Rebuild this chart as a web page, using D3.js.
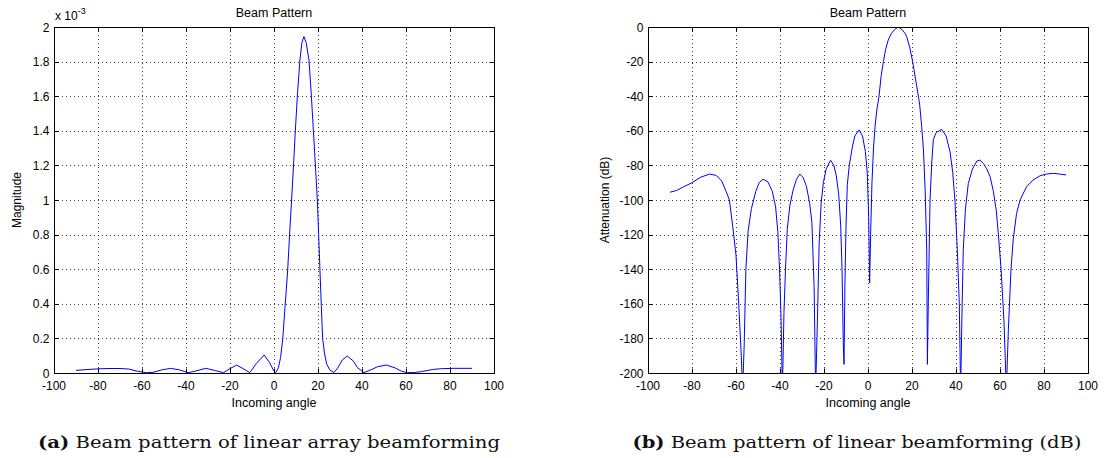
<!DOCTYPE html>
<html>
<head>
<meta charset="utf-8">
<script src="https://cdn.jsdelivr.net/npm/d3@7"></script>
<style>
  body { margin: 0; background: #fff; }
  svg { display: block; }
  .tick-label { font-family: "Liberation Sans", Arial, sans-serif; font-size: 12px; fill: #000; }
</style>
</head>
<body>
<div id="vis_canvas"></div>
<script>

// ---- data ----
var xTicks = [-100, -80, -60, -40, -20, 0, 20, 40, 60, 80, 100];
var yTicksMag = [0, 0.2, 0.4, 0.6, 0.8, 1, 1.2, 1.4, 1.6, 1.8, 2];      // x 10^-3
var yTicksDb = [0, -20, -40, -60, -80, -100, -120, -140, -160, -180, -200];

// (a) magnitude, in units of 1e-3
var magAngles = [-90, -85, -80, -75, -70, -66, -62, -58, -55, -51, -47, -43, -39, -36, -31, -27, -23, -20, -17, -14, -11,
  -8, -4.5, -2, 0, 0.8, 2, 3, 4, 5, 6.2, 7, 8, 9, 9.7, 10.7, 11.8, 12.7, 13.6, 14.6, 15.9, 17, 17.9, 19, 19.7, 20.3,
  20.9, 21.5, 22.1, 23, 24, 25.5, 27.3, 29, 31, 33.3, 36, 38, 40.9, 44, 47, 51, 55, 58, 60.6, 64, 67, 72, 76, 82, 90];
var magValues = [0.015, 0.020, 0.024, 0.026, 0.026, 0.023, 0.010, 0.002, 0.004, 0.018, 0.027, 0.018, 0.002, 0.010, 0.027, 0.015, 0.002, 0.025, 0.046, 0.025, 0.002,
  0.055, 0.104, 0.060, 0.010, 0.002, 0.03, 0.09, 0.20, 0.38, 0.59, 0.78, 1.0, 1.23, 1.40, 1.62, 1.81, 1.91, 1.945, 1.91, 1.81, 1.60, 1.40, 1.16, 1.0, 0.80,
  0.59, 0.39, 0.20, 0.11, 0.05, 0.015, 0.003, 0.03, 0.075, 0.098, 0.07, 0.03, 0.002, 0.018, 0.036, 0.046, 0.030, 0.010, 0.002, 0.003, 0.008, 0.020, 0.025, 0.027, 0.027];

// (b) attenuation in dB (values under -200 fall off the axis)
var dbAngles = [-90, -87, -84, -80, -76, -72, -69, -66.5, -64.5, -63, -61.5, -60, -58.8, -57.6, -57, -56.3, -55.5, -54.5, -53, -51,
  -49.5, -47.7, -45.5, -43.5, -42, -41, -40.2, -39.5, -38.9, -38.2, -37.5, -36.7, -35.5, -34, -32.5, -31, -29.5, -28, -26.5, -25.5,
  -24.5, -23.8, -23, -22.2, -21.3, -20.3, -19, -17, -15.5, -14.4, -13.3, -12.4, -11.8, -11.2, -10.9, -10.5, -10, -9.4, -8.5, -7.2,
  -6, -4.1, -2.5, -1.2, -0.3, 0.3, 0.75, 1.2, 1.8, 2.5, 3.2, 4, 5, 6, 7, 8, 9.2, 10.5, 12, 13.8,
  15.5, 17, 17.6, 19, 20.3, 21.6, 22.9, 23.5, 24.4, 25.2, 26, 26.7, 27, 27.4, 28.2, 29, 29.7, 31, 33.5, 35.5,
  37.3, 38.5, 39.5, 40.6, 41.5, 42.1, 42.8, 43.3, 44.3, 45.6, 47.5, 49.5, 50.9, 52.5, 54, 55.5, 57, 58.3, 59.2, 60.5,
  61.8, 62.9, 63.8, 65, 66, 67.5, 69.1, 72.1, 75, 78.2, 81, 84.2, 87, 90];
var dbValues = [-95.5, -94.5, -92.5, -90, -86.8, -85, -85.8, -89, -95, -100, -115, -132, -159, -190, -210, -185, -140, -118, -105, -95,
  -90, -88, -89.5, -95, -104, -118, -140, -170, -210, -165, -140, -117, -103, -94, -88, -85, -87, -92, -102, -113,
  -150, -210, -170, -125, -102, -90, -82, -77, -80, -86, -97, -115, -140, -185, -195, -150, -115, -91, -80, -70,
  -63, -59.5, -63, -72, -85, -110, -148, -120, -90, -70, -57.6, -48, -40, -28, -20, -13, -7.5, -4, -1.5, 0,
  -1.5, -4, -5.6, -12, -20, -30, -40, -45, -57.6, -71, -95, -129, -195, -160, -100, -78, -65, -61, -59.2, -63,
  -72.2, -84, -100, -129, -160, -210, -160, -129, -105, -90.4, -82, -77.5, -76.9, -79, -82, -86.5, -95, -106, -119, -140,
  -170, -210, -175, -140, -123, -108, -100, -92.3, -88.5, -86, -85, -84.6, -85, -85.5];

var W = 1111, H = 458;

var svg = d3.select('#vis_canvas').append('svg')
    .attr('width', W)
    .attr('height', H);

function drawPanel(opt) {
    var left = opt.left, top = 27, w = 440, h = 346;

    var x = d3.scaleLinear().domain([-100, 100]).range([left, left + w]);
    var y = d3.scaleLinear().domain(opt.yDomain).range([top + h, top]);

    var g = svg.append('g');

    g.append('clipPath').attr('id', opt.id + '_clip')
        .append('rect')
        .attr('x', left).attr('y', top).attr('width', w).attr('height', h);

    g.append('rect')
        .attr('x', left).attr('y', top).attr('width', w).attr('height', h)
        .attr('fill', '#fff');

    // dotted grid
    g.selectAll('.gx').data(xTicks.slice(1, -1)).enter().append('line')
        .attr('x1', function (d) { return Math.round(x(d)) + 0.5; })
        .attr('x2', function (d) { return Math.round(x(d)) + 0.5; })
        .attr('y1', top).attr('y2', top + h)
        .attr('stroke', '#000').attr('stroke-width', 1)
        .attr('stroke-dasharray', '1,3').attr('opacity', 0.75);

    g.selectAll('.gy').data(opt.yTicks.slice(1, -1)).enter().append('line')
        .attr('y1', function (d) { return Math.round(y(d)) + 0.5; })
        .attr('y2', function (d) { return Math.round(y(d)) + 0.5; })
        .attr('x1', left).attr('x2', left + w)
        .attr('stroke', '#000').attr('stroke-width', 1)
        .attr('stroke-dasharray', '1,3').attr('opacity', 0.75);

    // the curve
    var line = d3.line()
        .x(function (d) { return x(d[0]); })
        .y(function (d) { return y(d[1]); });

    var pts = opt.xs.map(function (a, i) { return [a, opt.ys[i]]; });

    g.append('path')
        .datum(pts)
        .attr('clip-path', 'url(#' + opt.id + '_clip)')
        .attr('d', line)
        .attr('fill', 'none')
        .attr('stroke', '#0000ff')
        .attr('stroke-width', 1);

    // inward ticks, all four sides
    var tl = 4.5;
    xTicks.forEach(function (t) {
        var px = Math.round(x(t)) + 0.5;
        g.append('line').attr('x1', px).attr('x2', px).attr('y1', top + h).attr('y2', top + h - tl).attr('stroke', '#000');
        g.append('line').attr('x1', px).attr('x2', px).attr('y1', top).attr('y2', top + tl).attr('stroke', '#000');
    });
    opt.yTicks.forEach(function (t) {
        var py = Math.round(y(t)) + 0.5;
        g.append('line').attr('y1', py).attr('y2', py).attr('x1', left).attr('x2', left + tl).attr('stroke', '#000');
        g.append('line').attr('y1', py).attr('y2', py).attr('x1', left + w).attr('x2', left + w - tl).attr('stroke', '#000');
    });

    // box
    g.append('rect')
        .attr('x', left + 0.5).attr('y', top + 0.5).attr('width', w).attr('height', h)
        .attr('fill', 'none').attr('stroke', '#000').attr('stroke-width', 1);

    // tick labels
    g.selectAll('.xl').data(xTicks).enter().append('text')
        .attr('class', 'tick-label')
        .attr('x', function (d) { return x(d); })
        .attr('y', top + h + 16.5)
        .attr('text-anchor', 'middle')
        .text(function (d) { return d; });

    g.selectAll('.yl').data(opt.yTicks).enter().append('text')
        .attr('class', 'tick-label')
        .attr('x', left - 4.5)
        .attr('y', function (d) { return y(d) + 4.5; })
        .attr('text-anchor', 'end')
        .text(function (d) { return d; });

    // title + axis labels
    g.append('text')
        .attr('x', left + w / 2).attr('y', 16.5)
        .attr('text-anchor', 'middle')
        .style('font-family', '"Liberation Sans", Arial, sans-serif').style('font-size', '12.5px')
        .text('Beam Pattern');

    g.append('text')
        .attr('x', left + w / 2).attr('y', 406.5)
        .attr('text-anchor', 'middle')
        .style('font-family', '"Liberation Sans", Arial, sans-serif').style('font-size', '12.5px')
        .text('Incoming angle');

    g.append('text')
        .attr('transform', 'translate(' + opt.ylabelX + ',' + (top + h / 2) + ') rotate(-90)')
        .attr('text-anchor', 'middle')
        .style('font-family', '"Liberation Sans", Arial, sans-serif').style('font-size', '12px')
        .text(opt.ylabel);

    if (opt.exponent) {
        var ex = g.append('text')
            .attr('x', left + 1).attr('y', 20)
            .style('font-family', '"Liberation Sans", Arial, sans-serif').style('font-size', '12px');
        ex.append('tspan').text('x 10');
        ex.append('tspan').attr('dy', -6).style('font-size', '9px').text('-3');
    }

    // caption below the panel
    var cap = svg.append('text')
        .attr('x', opt.capX).attr('y', 448)
        .attr('text-anchor', 'middle')
        .attr('textLength', opt.capW)
        .attr('lengthAdjust', 'spacingAndGlyphs')
        .style('font-family', '"DejaVu Serif", serif').style('font-size', '16px')
        .style('fill', '#111');
    cap.append('tspan').style('font-weight', 'bold').text(opt.capTag);
    cap.append('tspan').text(' ' + opt.capText);
}

drawPanel({
    id: 'a', left: 54,
    xs: magAngles, ys: magValues,
    yDomain: [0, 2], yTicks: yTicksMag,
    ylabel: 'Magnitude', ylabelX: 21, exponent: true,
    capX: 269, capW: 462, capTag: '(a)', capText: 'Beam pattern of linear array beamforming'
});

drawPanel({
    id: 'b', left: 648,
    xs: dbAngles, ys: dbValues,
    yDomain: [-200, 0], yTicks: yTicksDb,
    ylabel: 'Attenuation (dB)', ylabelX: 609, exponent: false,
    capX: 857, capW: 449, capTag: '(b)', capText: 'Beam pattern of linear beamforming (dB)'
});

</script>
</body>
</html>
